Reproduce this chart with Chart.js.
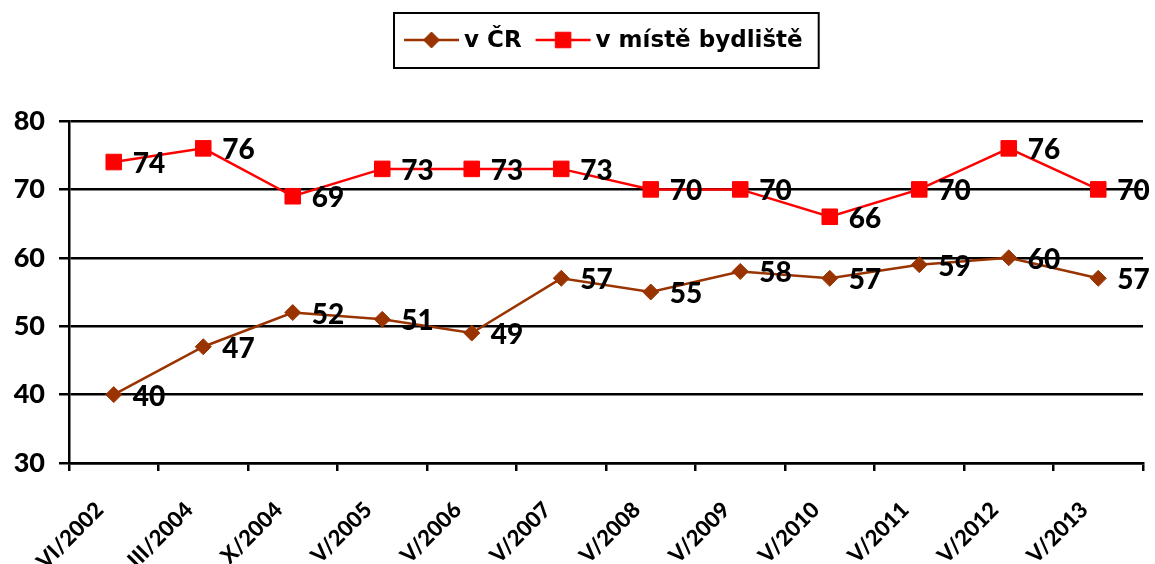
<!DOCTYPE html>
<html>
<head>
<meta charset="utf-8">
<script src="https://cdn.jsdelivr.net/npm/chart.js@4.4.1/dist/chart.umd.min.js"></script>
<style>
  html, body { margin: 0; padding: 0; background: #fff; overflow: hidden; }
  #wrap { width: 1155px; height: 564px; }
</style>
</head>
<body>
<div id="wrap"><canvas id="surveyChart" width="1155" height="564"></canvas></div>
<script>
// Data
const periods = ['VI/2002', 'III/2004', 'X/2004', 'V/2005', 'V/2006', 'V/2007',
                 'V/2008', 'V/2009', 'V/2010', 'V/2011', 'V/2012', 'V/2013'];
const czValues = [40, 47, 52, 51, 49, 57, 55, 58, 57, 59, 60, 57];
const homeValues = [74, 76, 69, 73, 73, 73, 70, 70, 66, 70, 76, 70];
const seriesNames = ['v ČR', 'v místě bydliště'];
const yMin = 30, yMax = 80, yStep = 10;

const NUM_FONT = 'Lato';
const LEGEND_FONT = '"DejaVu Sans"';

// value labels right of each point
const pointLabels = {
  id: 'pointLabels',
  afterDatasetsDraw(chart) {
    const ctx = chart.ctx;
    ctx.save();
    ctx.font = '900 28px ' + NUM_FONT;
    ctx.fillStyle = '#000';
    ctx.textAlign = 'left';
    ctx.textBaseline = 'alphabetic';
    chart.data.datasets.forEach((ds, i) => {
      chart.getDatasetMeta(i).data.forEach((pt, j) => {
        ctx.fillText(ds.data[j], pt.x + 19, pt.y + 11);
      });
    });
    ctx.restore();
  }
};

// boxed legend with line + marker samples, centred over the plot
const boxLegend = {
  id: 'boxLegend',
  afterDraw(chart) {
    const ctx = chart.ctx;
    const area = chart.chartArea;
    const sampleW = 55, gap = 5, itemGap = 14, padL = 10, padR = 16;
    ctx.save();
    ctx.font = 'bold 23px ' + LEGEND_FONT;
    const items = chart.data.datasets.map(ds => ({ ds, w: ctx.measureText(ds.label).width }));
    let total = padL + padR;
    items.forEach((it, i) => { total += sampleW + gap + it.w + (i ? itemGap : 0); });
    const boxX = Math.round((area.left + area.right) / 2 - total / 2);
    const boxY = 13, boxH = 55;
    ctx.strokeStyle = '#000';
    ctx.lineWidth = 2;
    ctx.strokeRect(boxX, boxY, total, boxH);
    const cy = boxY + 27;
    let x = boxX + padL;
    items.forEach((it, i) => {
      if (i) x += itemGap;
      const ds = it.ds;
      ctx.strokeStyle = ds.borderColor;
      ctx.fillStyle = ds.backgroundColor;
      ctx.lineWidth = ds.borderWidth;
      ctx.beginPath();
      ctx.moveTo(x, cy);
      ctx.lineTo(x + sampleW, cy);
      ctx.stroke();
      ctx.lineWidth = 1;
      Chart.helpers.drawPoint(ctx, {
        pointStyle: ds.pointStyle, radius: ds.pointRadius, borderWidth: 1
      }, x + sampleW / 2, cy);
      x += sampleW + gap;
      ctx.fillStyle = '#000';
      ctx.textAlign = 'left';
      ctx.textBaseline = 'middle';
      ctx.fillText(ds.label, x, cy + 1);
      x += it.w;
    });
    ctx.restore();
  }
};

new Chart(document.getElementById('surveyChart'), {
  type: 'line',
  data: {
    labels: periods,
    datasets: [
      {
        label: seriesNames[0],
        data: czValues,
        borderColor: '#993300',
        backgroundColor: '#993300',
        borderWidth: 2.5,
        pointStyle: 'rectRot',
        pointRadius: 8,
        pointHoverRadius: 8,
        pointBorderWidth: 1,
        tension: 0
      },
      {
        label: seriesNames[1],
        data: homeValues,
        borderColor: '#ff0000',
        backgroundColor: '#ff0000',
        borderWidth: 2.5,
        pointStyle: 'rect',
        pointRadius: 11,
        pointHoverRadius: 11,
        pointBorderWidth: 1,
        tension: 0
      }
    ]
  },
  options: {
    responsive: false,
    animation: false,
    layout: { padding: { top: 121, right: 6, left: 0, bottom: 0 } },
    plugins: {
      legend: { display: false },
      tooltip: { enabled: false }
    },
    scales: {
      x: {
        offset: true,
        grid: { offset: true, drawOnChartArea: false, drawTicks: true, tickLength: 8, color: '#000', lineWidth: 2.5 },
        border: { color: '#000', width: 2.5 },
        ticks: {
          autoSkip: false, minRotation: 45, maxRotation: 45, padding: 26, labelOffset: -14, color: '#000',
          font: { family: NUM_FONT, size: 22, weight: '900' }
        },
        afterFit(scale) { scale.height = 101; }
      },
      y: {
        min: yMin, max: yMax,
        ticks: { stepSize: yStep, padding: 14, color: '#000', font: { family: NUM_FONT, size: 27, weight: '900' } },
        grid: { color: '#000', lineWidth: 2.5, tickLength: 10 },
        border: { color: '#000', width: 2.5 },
        afterFit(scale) { scale.width = 69; }
      }
    }
  },
  plugins: [pointLabels, boxLegend]
});
</script>
</body>
</html>
